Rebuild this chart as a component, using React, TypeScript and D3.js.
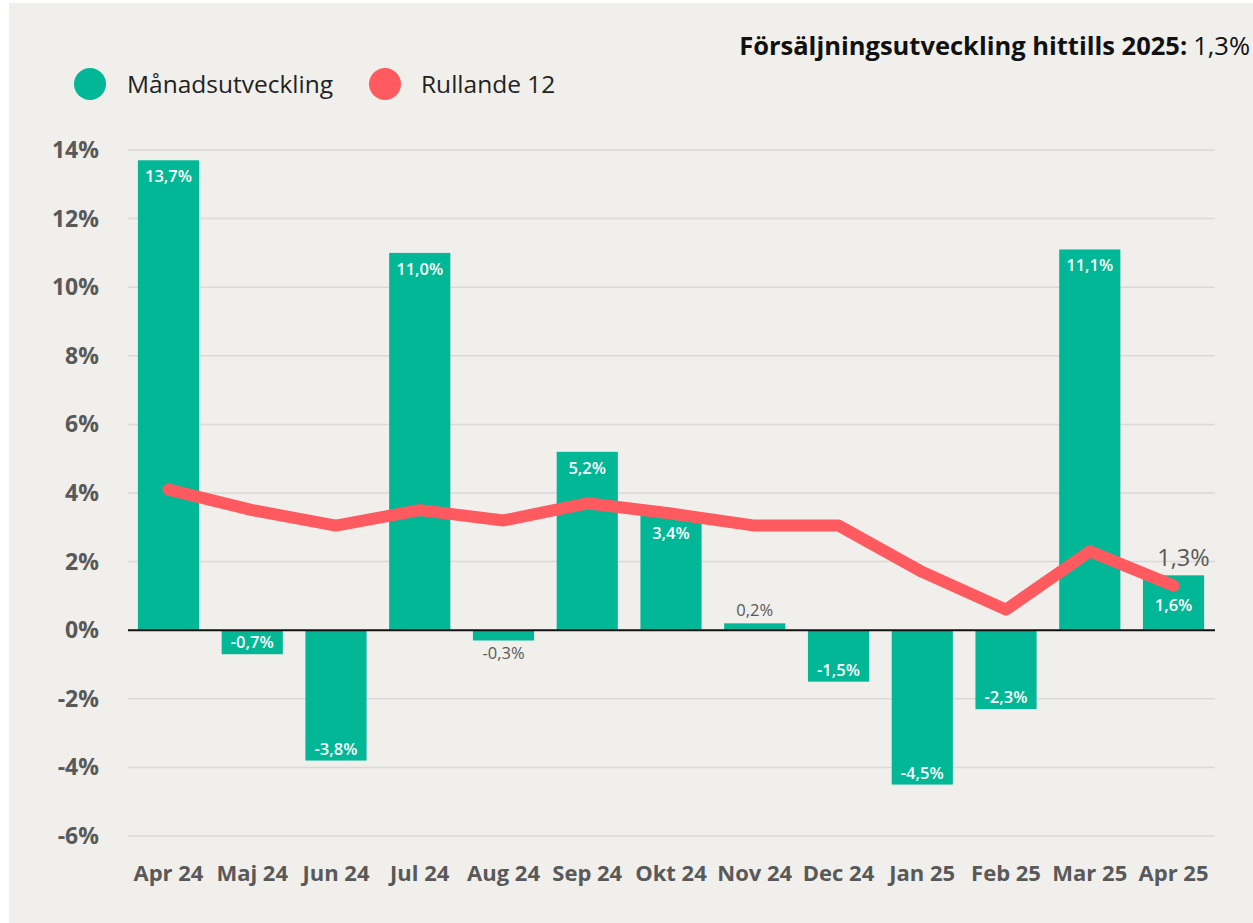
import React from "react";
import * as d3 from "d3";

const categories = ["Apr 24", "Maj 24", "Jun 24", "Jul 24", "Aug 24", "Sep 24", "Okt 24", "Nov 24", "Dec 24", "Jan 25", "Feb 25", "Mar 25", "Apr 25"];
const monthly = [13.7, -0.7, -3.8, 11.0, -0.3, 5.2, 3.4, 0.2, -1.5, -4.5, -2.3, 11.1, 1.6];
const rolling12 = [4.1, 3.5, 3.05, 3.5, 3.2, 3.7, 3.4, 3.05, 3.05, 1.7, 0.6, 2.3, 1.3];
const yTicks = [-6, -4, -2, 0, 2, 4, 6, 8, 10, 12, 14];
const titleBold = "Försäljningsutveckling hittills 2025:";
const titleValue = "1,3%";
const legendItems = ["Månadsutveckling", "Rullande 12"];

const FONT = "'Open Sans', 'Noto Sans', sans-serif";
const BAR = "#01B795";
const LINE = "#FF5A5F";
const GRAY = "#595959";

const fmt = (v: number) => v.toFixed(1).replace(".", ",") + "%";

export default function App() {
  const W = 1253, H = 923;
  const x = d3.scaleBand<string>().domain(categories).range([126.6, 1215.4]).paddingInner(0.27).paddingOuter(0.135);
  const y = d3.scaleLinear().domain([-6, 14]).range([836, 150]);
  const cx = (c: string) => (x(c) as number) + x.bandwidth() / 2;
  const line = d3.line<number>().x((_, i) => cx(categories[i])).y((d) => y(d)).curve(d3.curveLinear);

  return (
    <svg width={W} height={H} style={{ position: "absolute", left: 0, top: 0 }} fontFamily={FONT}>
      <rect x={9} y={3} width={W - 9} height={H - 3} fill="#F0EFEB" />
      <text x={1250} y={55} textAnchor="end" fontSize={25.5} fill="#111">
        <tspan fontWeight="bold">{titleBold}</tspan>
        <tspan dx={6}>{titleValue}</tspan>
      </text>
      <circle cx={90} cy={84} r={16} fill={BAR} />
      <text x={127} y={93} fontSize={24.5} fill="#222">{legendItems[0]}</text>
      <circle cx={385} cy={84} r={16} fill={LINE} />
      <text x={421} y={93} fontSize={24.5} fill="#222">{legendItems[1]}</text>

      {yTicks.map((t) => (
        <g key={t}>
          {t !== 0 && <line x1={128} x2={1215} y1={y(t)} y2={y(t)} stroke="#D9D9D9" strokeWidth={1.5} />}
          <text x={99} y={y(t) + 8} textAnchor="end" fontSize={23} fontWeight="bold" fill={GRAY}>{t}%</text>
        </g>
      ))}

      {monthly.map((v, i) => {
        const c = categories[i];
        const top = y(Math.max(0, v));
        const bot = y(Math.min(0, v));
        const h = bot - top;
        const inside = Math.abs(v) >= 0.5;
        let ly: number;
        let fill = "#fff";
        if (inside) {
          if (v > 0) {
            const lineY = y(rolling12[i]);
            ly = top + 22;
            if (Math.abs(lineY - top) < 20) ly = Math.max(ly, lineY + 25);
          } else {
            ly = bot - 6;
          }
        } else {
          fill = GRAY;
          ly = v > 0 ? top - 7 : bot + 19;
        }
        return (
          <g key={c}>
            <rect x={x(c)} y={top} width={x.bandwidth()} height={h} fill={BAR} />
            <text x={cx(c)} y={ly} textAnchor="middle" fontSize={16.5} fill={fill} fontWeight={inside ? 600 : 500}>{fmt(v)}</text>
          </g>
        );
      })}

      <line x1={128} x2={1215} y1={y(0)} y2={y(0)} stroke="#111" strokeWidth={2} />

      <path d={line(rolling12) || ""} fill="none" stroke={LINE} strokeWidth={12} strokeLinecap="round" strokeLinejoin="round" />
      <text x={cx(categories[12]) + 10} y={y(rolling12[12]) - 20} textAnchor="middle" fontSize={23.5} fill={GRAY}>{fmt(rolling12[12])}</text>

      {categories.map((c) => (
        <text key={c} x={cx(c)} y={881} textAnchor="middle" fontSize={22} fontWeight="bold" fill={GRAY}>{c}</text>
      ))}
    </svg>
  );
}
